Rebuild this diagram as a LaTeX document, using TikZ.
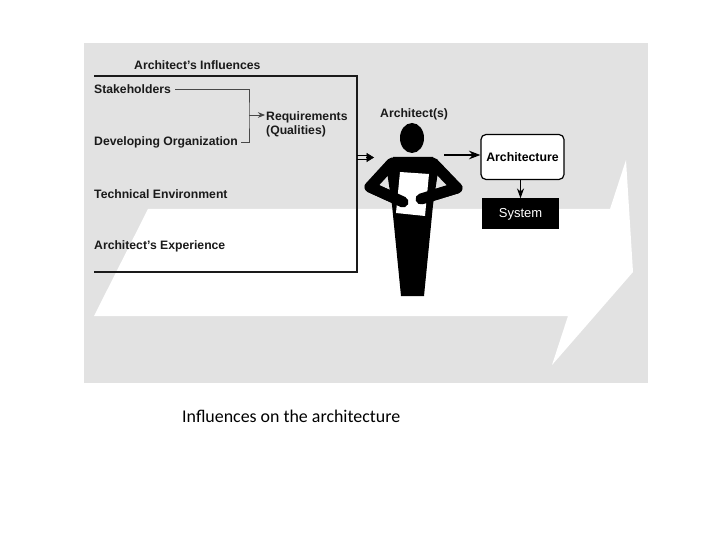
\documentclass[tikz,border=0pt]{standalone}
\usepackage{fontspec}
\setmainfont{Liberation Sans}
\newfontfamily\capfont{Carlito}
\usetikzlibrary{arrows.meta,positioning,calc}
\definecolor{panelgray}{HTML}{E2E2E2}
\definecolor{inkgray}{HTML}{1A1A1A}
\tikzset{
  lab/.style={anchor=west,inner sep=0pt,font=\fontsize{12.2}{14}\selectfont\bfseries,text=inkgray,align=left},
  arr/.style={-{Stealth[length=4mm,width=3mm]},line width=1.5pt},
  thinline/.style={draw=inkgray!80,line width=0.8pt},
  limb/.style={line width=11pt,line cap=round,line join=round},
}
\begin{document}
\begin{tikzpicture}[x=1pt,y=-1pt]
\useasboundingbox (0,0) rectangle (720,540);
\fill[panelgray] (84,43) rectangle (648,383);
\fill[white] (94,316)--(148,209)--(610,209)--(626,160)--(633,272)--(552,365)--(568,316)--cycle;
\node[lab] (title) at (134,65.5) {Architect's Influences};
\draw[inkgray,line width=1.1pt] (94,76)--(357,76)--(357,272)--(94,272);
\draw[inkgray,line width=1.5pt] (94,76)--(357,76);
\node[lab] (stake) at (94,89) {Stakeholders};
\node[lab] (devorg) at (94,142) {Developing Organization};
\node[lab] (tech) at (94,194) {Technical Environment};
\node[lab] (exper) at (94,246) {Architect's Experience};
\node[lab] (req) at (266,124) {Requirements\\(Qualities)};
\coordinate (joint) at (249,115);
\draw[thinline] (stake.east)++(4,0) -| (joint) |- ($(devorg.east)+(3,0)$);
\draw[-{Stealth[length=2.5mm,width=2mm]},thinline] (joint) -- ($(req.west |- joint)+(-1,0)$);
\coordinate (figin) at (374,157.5);
\draw[line width=1.1pt] (357,155.5) -- (368,155.5);
\draw[line width=1.1pt] (357,159.5) -- (368,159.5);
\draw[-{Triangle[length=2.6mm,width=3.2mm]},line width=0.4pt] (366,157.5) -- (figin);
\node[lab] (archs) at (380,114) {Architect(s)};
\fill (412,138) ellipse (12 and 15);
\fill (393,157)--(433,157)--(438,172)--(433,205)--(424,296)--(401,296)--(392,205)--(387,172)--cycle;
\draw[limb] (392,163)--(370,187)--(403,202);
\draw[limb] (433,163)--(457,188)--(421,199);
\fill[white] (400,172)--(429,174)--(425,216)--(396,213)--cycle;
\draw[limb] (370,187)--(403,202);
\draw[limb] (457,188)--(421,199);
\node[draw=black,line width=1.2pt,fill=white,rounded corners=5pt,minimum width=83pt,minimum height=45pt,inner sep=0pt,font=\fontsize{12.3}{14}\selectfont\bfseries] (archbox) at (522.5,157) {Architecture};
\node[fill=black,text=white,minimum width=77pt,minimum height=31pt,inner sep=0pt,font=\fontsize{13}{15}\selectfont] (sysbox) at (520.5,214) {System};
\coordinate (figout) at (444,155);
\draw[arr] (figout) -- (archbox.west |- figout);
\draw[-{Stealth[length=3.5mm,width=2.5mm]},line width=1pt] (sysbox.north |- archbox.south) -- (sysbox.north);
\node[anchor=west,inner sep=0pt,font=\fontsize{17.9}{20}\selectfont\capfont] (caption) at (182,416) {Influences on the architecture};
\end{tikzpicture}
\end{document}
